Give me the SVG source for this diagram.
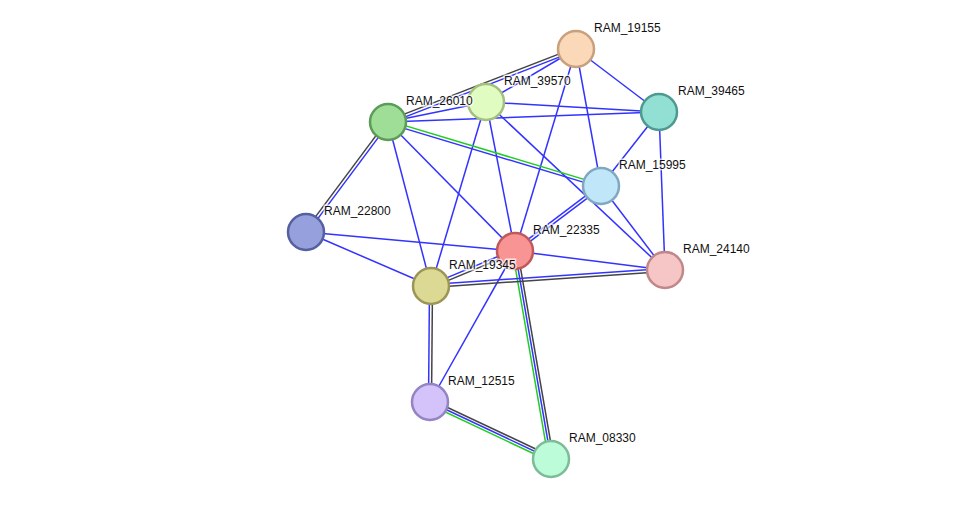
<svg xmlns="http://www.w3.org/2000/svg" width="975" height="505" viewBox="0 0 975 505">
<style>
.e line{stroke-width:1.5;fill:none}
.b{stroke:#3333ff}.k{stroke:#444}.g{stroke:#22cc22}
.n circle{stroke-width:2.5}
.n text{font-family:"Liberation Sans",Arial,sans-serif;font-size:12px;fill:#111;stroke:#fff;stroke-width:3;paint-order:stroke;stroke-opacity:0.7}
</style>
<rect width="975" height="505" fill="#fff"/>
<g id="edges" class="e">
<line class="k" x1="575.5" y1="47.6" x2="387.5" y2="120.6"/>
<line class="b" x1="576.5" y1="50.4" x2="388.5" y2="123.4"/>
<line class="b" x1="576" y1="49" x2="486" y2="102"/>
<line class="b" x1="576" y1="49" x2="659" y2="112"/>
<line class="b" x1="576" y1="49" x2="601" y2="186"/>
<line class="b" x1="576" y1="49" x2="515" y2="251"/>
<line class="b" x1="486" y1="102" x2="388" y2="122"/>
<line class="b" x1="486" y1="102" x2="659" y2="112"/>
<line class="b" x1="388" y1="122" x2="659" y2="112"/>
<line class="b" x1="486" y1="102" x2="431" y2="286"/>
<line class="b" x1="486" y1="102" x2="515" y2="251"/>
<line class="b" x1="486" y1="102" x2="665" y2="270"/>
<line class="g" x1="388.4" y1="120.6" x2="601.4" y2="184.6"/>
<line class="b" x1="387.6" y1="123.4" x2="600.6" y2="187.4"/>
<line class="b" x1="388" y1="122" x2="515" y2="251"/>
<line class="b" x1="388" y1="122" x2="431" y2="286"/>
<line class="k" x1="386.8" y1="121.1" x2="304.8" y2="231.1"/>
<line class="b" x1="389.2" y1="122.9" x2="307.2" y2="232.9"/>
<line class="b" x1="659" y1="112" x2="601" y2="186"/>
<line class="b" x1="659" y1="112" x2="665" y2="270"/>
<line class="b" x1="600.1" y1="184.8" x2="514.1" y2="249.8"/>
<line class="b" x1="601.9" y1="187.2" x2="515.9" y2="252.2"/>
<line class="b" x1="601" y1="186" x2="665" y2="270"/>
<line class="b" x1="306" y1="232" x2="515" y2="251"/>
<line class="b" x1="306" y1="232" x2="431" y2="286"/>
<line class="b" x1="515" y1="251" x2="665" y2="270"/>
<line class="b" x1="514.4" y1="249.6" x2="430.4" y2="284.6"/>
<line class="k" x1="515.6" y1="252.4" x2="431.6" y2="287.4"/>
<line class="b" x1="515" y1="251" x2="430" y2="402"/>
<line class="g" x1="512.5" y1="251.4" x2="548.5" y2="459.4"/>
<line class="b" x1="515" y1="251" x2="551" y2="459"/>
<line class="k" x1="517.5" y1="250.6" x2="553.5" y2="458.6"/>
<line class="b" x1="430.9" y1="284.5" x2="664.9" y2="268.5"/>
<line class="k" x1="431.1" y1="287.5" x2="665.1" y2="271.5"/>
<line class="b" x1="429.5" y1="286" x2="428.5" y2="402"/>
<line class="k" x1="432.5" y1="286" x2="431.5" y2="402"/>
<line class="g" x1="428.9" y1="404.3" x2="549.9" y2="461.3"/>
<line class="b" x1="430" y1="402" x2="551" y2="459"/>
<line class="k" x1="431.1" y1="399.7" x2="552.1" y2="456.7"/>
</g>
<g id="RAM_19155" class="n"><circle cx="576" cy="49" r="18" fill="#fbd8b8" stroke="#c8a07c"/><text x="594" y="32">RAM_19155</text></g>
<g id="RAM_39570" class="n"><circle cx="486" cy="102" r="18" fill="#e0fcc0" stroke="#a3c080"/><text x="504" y="85">RAM_39570</text></g>
<g id="RAM_39465" class="n"><circle cx="659" cy="112" r="18" fill="#92e0d4" stroke="#4e9a90"/><text x="678" y="95">RAM_39465</text></g>
<g id="RAM_26010" class="n"><circle cx="388" cy="122" r="18" fill="#9ede96" stroke="#5c9c58"/><text x="406" y="105">RAM_26010</text></g>
<g id="RAM_15995" class="n"><circle cx="601" cy="186" r="18" fill="#c0e6fa" stroke="#80a8c0"/><text x="619" y="169">RAM_15995</text></g>
<g id="RAM_22800" class="n"><circle cx="306" cy="232" r="18" fill="#96a0dc" stroke="#5560a0"/><text x="324" y="215">RAM_22800</text></g>
<g id="RAM_22335" class="n"><circle cx="515" cy="251" r="18" fill="#f99494" stroke="#c05a5a"/><text x="533" y="234">RAM_22335</text></g>
<g id="RAM_24140" class="n"><circle cx="665" cy="270" r="18" fill="#f6c6c6" stroke="#c08888"/><text x="683" y="253">RAM_24140</text></g>
<g id="RAM_19345" class="n"><circle cx="431" cy="286" r="18" fill="#dcd994" stroke="#9c9656"/><text x="449" y="269">RAM_19345</text></g>
<g id="RAM_12515" class="n"><circle cx="430" cy="402" r="18" fill="#d4c2fa" stroke="#9484c4"/><text x="448" y="385">RAM_12515</text></g>
<g id="RAM_08330" class="n"><circle cx="551" cy="459" r="18" fill="#bcfcd8" stroke="#7cbc98"/><text x="569" y="442">RAM_08330</text></g>
</svg>
